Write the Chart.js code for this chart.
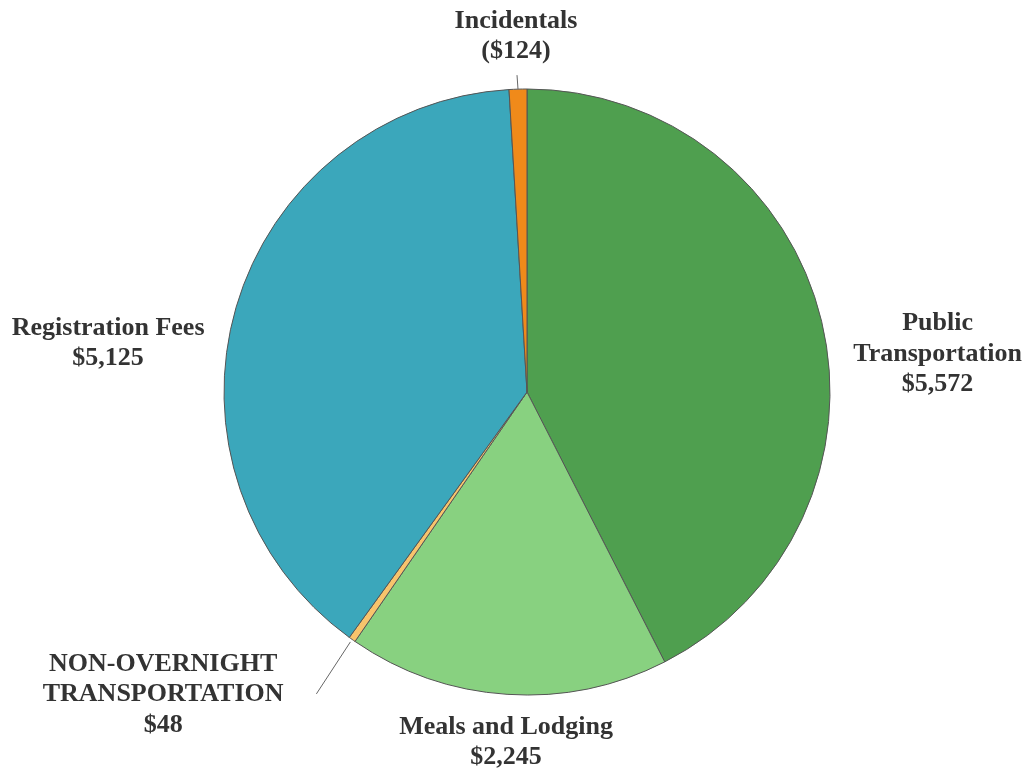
<!DOCTYPE html>
<html>
<head>
<meta charset="utf-8">
<title>Expenses</title>
<script src="https://cdn.jsdelivr.net/npm/chart.js@4/dist/chart.umd.min.js"></script>
<style>
  html, body { margin: 0; padding: 0; background: #fff; }
  #wrap { width: 1028px; height: 770px; position: relative; }
</style>
</head>
<body>
<div id="wrap"><canvas id="pie"></canvas></div>
<script>
const categories = ['Public Transportation', 'Meals and Lodging', 'NON-OVERNIGHT TRANSPORTATION', 'Registration Fees', 'Incidentals'];
const amounts = [5572, 2245, 48, 5125, 124];
const labelLines = [
    ['Public', 'Transportation', '$5,572'],
    ['Meals and Lodging', '$2,245'],
    ['NON-OVERNIGHT', 'TRANSPORTATION', '$48'],
    ['Registration Fees', '$5,125'],
    ['Incidentals', '($124)']
];
const colores = ['#4f9f4f', '#88d180', '#f8c46c', '#3ba7bb', '#f08a1a'];

// label placement relative to the outer edge at each slice's mid angle
const labelOffset = [[116, 33], [-1, 48], [-189, 55], [-128, 36], [-2, -53]];
// leader lines: [start gap from edge, end dx, end dy] or null
const leaders = [null, null, [3, -34, 52], null, [0, -1, -14]];

const etiquetas = {
    id: 'etiquetas',
    afterDatasetsDraw(chart) {
        const ctx = chart.ctx;
        const arcs = chart.getDatasetMeta(0).data;
        ctx.save();
        ctx.font = 'bold 26px "Liberation Serif", "Times New Roman", serif';
        ctx.fillStyle = '#333333';
        ctx.textAlign = 'center';
        ctx.textBaseline = 'middle';
        arcs.forEach((arc, i) => {
            const mid = (arc.startAngle + arc.endAngle) / 2;
            const ex = arc.x + Math.cos(mid) * arc.outerRadius;
            const ey = arc.y + Math.sin(mid) * arc.outerRadius;
            const lead = leaders[i];
            if (lead) {
                const sx = ex + Math.cos(mid) * lead[0];
                const sy = ey + Math.sin(mid) * lead[0];
                ctx.beginPath();
                ctx.strokeStyle = '#666666';
                ctx.lineWidth = 1;
                ctx.moveTo(sx, sy);
                ctx.lineTo(sx + lead[1], sy + lead[2]);
                ctx.stroke();
            }
            const lines = labelLines[i];
            const lh = 30.5;
            const cx = ex + labelOffset[i][0];
            const cy = ey + labelOffset[i][1];
            lines.forEach((t, k) => {
                ctx.fillText(t, cx, cy + (k - (lines.length - 1) / 2) * lh);
            });
        });
        ctx.restore();
    }
};

new Chart(document.getElementById('pie'), {
    type: 'pie',
    data: {
        labels: categories,
        datasets: [{
            data: amounts,
            backgroundColor: colores,
            borderColor: '#555555',
            borderWidth: 1,
            radius: 303
        }]
    },
    options: {
        responsive: true,
        maintainAspectRatio: false,
        animation: false,
        layout: { padding: { left: 26, right: 0, top: 14, bottom: 0 } },
        plugins: { legend: { display: false }, tooltip: { enabled: false } }
    },
    plugins: [etiquetas]
});
</script>
</body>
</html>
